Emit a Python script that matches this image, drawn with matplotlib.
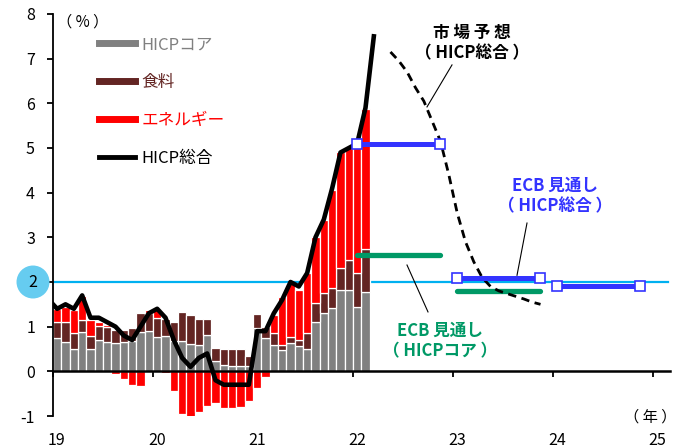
import numpy as np
import pandas as pd
import matplotlib
matplotlib.use("Agg")
import matplotlib.pyplot as plt
from matplotlib.lines import Line2D

plt.rcParams['font.family'] = ['Noto Sans CJK JP', 'DejaVu Sans']

# contributions to HICP (% pt), Jan 2019 - Feb 2022
bar_months = pd.date_range('2019-01-01', '2022-02-01', freq='MS')
core = [0.74, 0.66, 0.50, 0.88, 0.50, 0.71, 0.66, 0.63, 0.66, 0.68, 0.87, 0.90,
        0.77, 0.78, 0.67, 0.67, 0.61, 0.60, 0.81, 0.23, 0.14, 0.12, 0.11, 0.12,
        0.97, 0.75, 0.59, 0.47, 0.64, 0.56, 0.51, 1.10, 1.30, 1.41, 1.82, 1.81,
        1.43, 1.77]
food = [0.36, 0.44, 0.36, 0.28, 0.29, 0.30, 0.33, 0.30, 0.27, 0.28, 0.43, 0.40,
        0.43, 0.40, 0.43, 0.66, 0.65, 0.58, 0.37, 0.29, 0.35, 0.37, 0.38, 0.23,
        0.32, 0.25, 0.27, 0.12, 0.13, 0.15, 0.34, 0.42, 0.45, 0.45, 0.49, 0.69,
        0.77, 0.97]
energy = [0.30, 0.35, 0.52, 0.53, 0.36, 0.10, 0.05, -0.06, -0.17, -0.31, -0.33, 0.07,
          0.19, -0.03, -0.44, -0.95, -1.03, -0.91, -0.78, -0.72, -0.81, -0.81, -0.80, -0.67,
          -0.38, -0.13, 0.41, 1.07, 1.20, 1.11, 1.35, 1.48, 1.64, 2.20, 2.60, 2.52,
          2.98, 3.13]

# headline HICP (% y/y), Dec 2018 - Mar 2022
hicp_months = pd.date_range('2018-12-01', '2022-03-01', freq='MS')
hicp = [1.6,
        1.4, 1.5, 1.4, 1.7, 1.2, 1.2, 1.1, 1.0, 0.8, 0.7, 1.0, 1.3,
        1.4, 1.2, 0.7, 0.3, 0.1, 0.3, 0.4, -0.2, -0.3, -0.3, -0.3, -0.3,
        0.9, 0.9, 1.3, 1.6, 2.0, 1.9, 2.2, 3.0, 3.4, 4.1, 4.9, 5.0,
        5.1, 5.9, 7.5]

# market-implied path, May 2022 - Nov 2023
mkt_months = pd.date_range('2022-05-01', '2023-11-01', freq='MS')
mkt = [7.15, 6.95, 6.70, 6.35, 6.05, 5.60, 5.15, 4.40, 3.55, 2.90, 2.45, 2.10,
       1.90, 1.80, 1.74, 1.68, 1.62, 1.55, 1.50]

# ECB staff projections (annual averages)
ecb_years = [2022, 2023, 2024]
ecb_total = [5.1, 2.1, 1.9]
ecb_core_years = [2022, 2023]
ecb_core = [2.6, 1.8]

year_labels = ['19', '20', '21', '22', '23', '24', '25']
target = 2.0


def to_year(months):
    return np.array([d.year + (d.month - 0.5) / 12 for d in months])


c_core = '#808080'
c_food = '#632523'
c_energy = '#FF0000'
c_blue = '#3333FF'
c_green = '#009966'
c_target = '#00B0F0'

fig = plt.figure(figsize=(6.85, 4.48), dpi=100)
ax = fig.add_axes([53 / 685, 32 / 448, 617 / 685, 402 / 448])
ax.set_xlim(2019, 2025.17)
ax.set_ylim(-1, 8)

# 2% target line
ax.plot([2019, 2025.15], [target, target], color=c_target, lw=1.6, zorder=1)

x = to_year(bar_months)
core = np.array(core)
food = np.array(food)
energy = np.array(energy)
w = 1 / 12
ax.bar(x, core, width=w, color=c_core, edgecolor='white', linewidth=0.9, zorder=2)
ax.bar(x, food, width=w, bottom=core, color=c_food, edgecolor='white', linewidth=0.9, zorder=2)
e_bottom = np.where(energy > 0, core + food, 0)
ax.bar(x, energy, width=w, bottom=e_bottom, color=c_energy, edgecolor='white', linewidth=0.9, zorder=2)

ax.plot(to_year(hicp_months), hicp, color='black', lw=3.3, zorder=4)
ax.plot(to_year(mkt_months), mkt, color='black', lw=2.0, dashes=(3, 2), zorder=4)

# ECB projections: headline (blue) and core (green)
for yr, v in zip(ecb_core_years, ecb_core):
    ax.plot([yr + 0.04, yr + 0.87], [v, v], color=c_green, lw=3.8,
            solid_capstyle='round', zorder=3)
for yr, v in zip(ecb_years, ecb_total):
    ax.plot([yr + 0.04, yr + 0.87], [v, v], color=c_blue, lw=3.6, zorder=5,
            marker='s', markersize=7.5, markerfacecolor='white',
            markeredgecolor=c_blue, markeredgewidth=1.2)

# axes styling
for s in ['top', 'right']:
    ax.spines[s].set_visible(False)
ax.spines['bottom'].set_position(('data', 0))
ax.spines['bottom'].set_linewidth(1.8)
ax.spines['left'].set_linewidth(1.3)
ax.spines['bottom'].set_zorder(6)

ax.set_xticks(range(2019, 2026))
ax.tick_params(axis='x', direction='out', length=4, width=1.3, labelbottom=False)
ax.set_yticks(range(-1, 9))
ax.set_yticklabels(['' if v == 2 else str(v) for v in range(-1, 9)])
ax.tick_params(axis='y', direction='out', length=4, width=1.3, labelsize=11.5, pad=9)

for i, lab in enumerate(year_labels):
    ax.text(2019 + i + 0.04, -1.55, lab, ha='center', va='center', fontsize=11.5, clip_on=False)
ax.text(2024.97, -1.02, '（ 年 ）', ha='center', va='center', fontsize=11, clip_on=False)
ax.text(2019.04, 7.82, '（ % ）', ha='left', va='center', fontsize=11)

# highlighted 2% label
ax.text(2018.8, target, '2', ha='center', va='center', fontsize=11.5, clip_on=False,
        bbox=dict(boxstyle='circle,pad=0.5', fc='#66CCF0', ec='none'))

# annotations
ax.text(2023.19, 7.35, '市 場 予 想\n（ HICP総合 ）', ha='center', va='center', fontsize=12,
        fontweight='bold', color='black', linespacing=1.2)
ax.plot([2022.99, 2022.74], [6.86, 5.92], color='black', lw=0.8, zorder=4)
ax.text(2024.02, 3.92, 'ECB 見通し\n（ HICP総合 ）', ha='center', va='center', fontsize=12,
        fontweight='bold', color=c_blue, linespacing=1.2)
ax.plot([2023.74, 2023.64], [3.32, 2.15], color='black', lw=0.8, zorder=4)
ax.text(2022.87, 0.68, 'ECB 見通し\n（ HICPコア ）', ha='center', va='center', fontsize=12,
        fontweight='bold', color=c_green, linespacing=1.2)
ax.plot([2022.54, 2022.75], [2.38, 1.33], color='black', lw=0.8, zorder=4)

handles = [Line2D([], [], color=c_core, lw=5),
           Line2D([], [], color=c_food, lw=5),
           Line2D([], [], color=c_energy, lw=5),
           Line2D([], [], color='black', lw=3.5)]
labels = ['HICPコア', '食料', 'エネルギー', 'HICP総合']
ax.legend(handles, labels, loc='upper left', bbox_to_anchor=(0.074, 0.945),
          frameon=False, fontsize=12, labelcolor='linecolor', handlelength=2.2,
          handletextpad=0.35, labelspacing=1.25, borderpad=0, borderaxespad=0)

fig.savefig('out.png', dpi=100)
